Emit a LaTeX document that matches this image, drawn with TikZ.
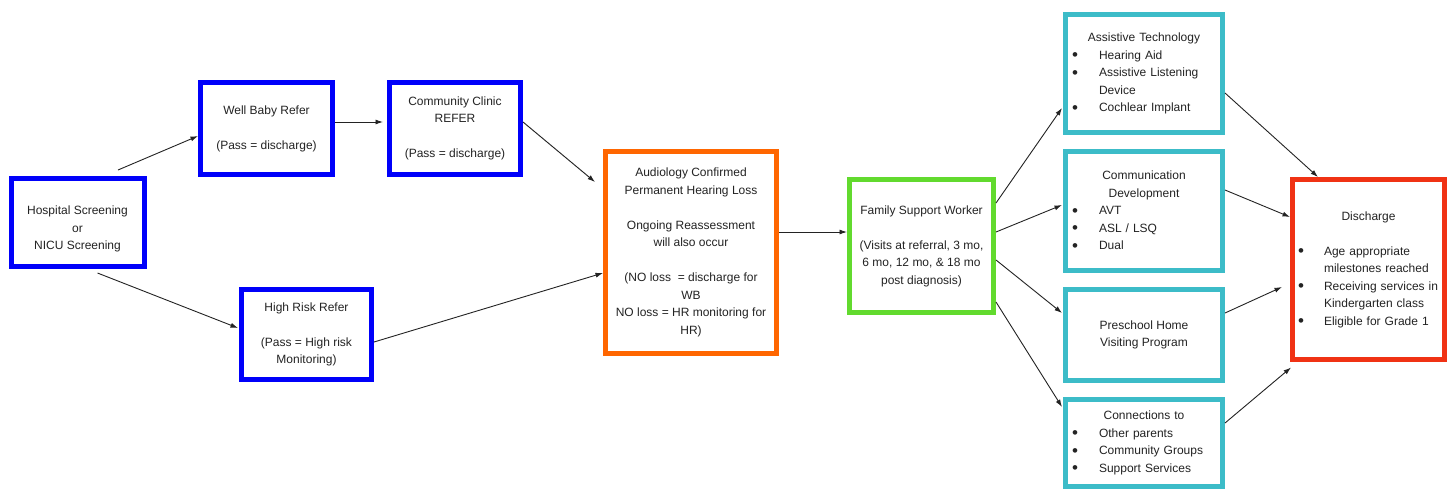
\documentclass[tikz,border=0pt]{standalone}
\usepackage{fontspec}
\setmainfont{Liberation Sans}
\usetikzlibrary{arrows.meta,calc}

\definecolor{frameblue}{RGB}{0,0,250}
\definecolor{frameorange}{RGB}{255,102,0}
\definecolor{framegreen}{RGB}{98,218,46}
\definecolor{frameteal}{RGB}{60,188,200}
\definecolor{framered}{RGB}{240,50,20}
\definecolor{inkgray}{RGB}{35,35,35}

% bullet with left gap #1 and bullet column width #2
\newcommand{\bul}[2]{\hspace*{#1}\makebox[#2][l]{\fontsize{17}{17}\selectfont\raisebox{-1.6pt}{\textbullet}}}

\begin{document}
\begin{tikzpicture}[x=1pt,y=-1pt,
  txt/.style={text=inkgray, font=\fontsize{12}{17.5}\selectfont, align=center, inner sep=0pt},
  boxframe/.style={draw=#1, line width=5pt, outer sep=2.5pt, inner sep=0pt,
    fill=white, txt},
  listbox/.style={boxframe=#1, align=left},
  flow/.style={draw=inkgray, line width=0.9pt, -{Latex[length=7.5pt,width=5pt]}},
]
\useasboundingbox[fill=white] (0,0) rectangle (1453,491);

% screening and referral stage
\node[boxframe=frameblue, minimum width=133pt, minimum height=88pt] (hosp) at (77.5,222.5) {};
\node[txt] (hospT) at (77.5,229) {Hospital Screening\\or\\NICU Screening};

\node[boxframe=frameblue, minimum width=132pt, minimum height=92pt] (wb) at (266.5,128.5)
  {Well Baby Refer\\[17.5pt](Pass = discharge)};

\node[boxframe=frameblue, minimum width=131pt, minimum height=92pt] (cc) at (455,128.5)
  {Community Clinic\\REFER\\[17.5pt](Pass = discharge)};

\node[boxframe=frameblue, minimum width=130pt, minimum height=90pt] (hr) at (306.5,334.5)
  {High Risk Refer\\[17.5pt](Pass = High risk\\Monitoring)};

% diagnosis and family support
\node[boxframe=frameorange, minimum width=171pt, minimum height=202pt] (aud) at (691,252.5)
  {Audiology Confirmed\\Permanent Hearing Loss\\[17.5pt]Ongoing Reassessment\\will also occur\\[17.5pt](NO loss~ = discharge for\\WB\\NO loss = HR monitoring for\\HR)};

\node[boxframe=framegreen, minimum width=144pt, minimum height=133pt] (fsw) at (921.5,246)
  {Family Support Worker\\[17.5pt](Visits at referral, 3 mo,\\6 mo, 12 mo, \& 18 mo\\post diagnosis)};

% services
\node[listbox=frameteal, text width=157pt, minimum height=118pt] (at) at (1144,73.5)
  {\makebox[157pt][c]{Assistive Technology}\\
   \bul{6.5pt}{27pt}Hearing Aid\\
   \bul{6.5pt}{27pt}Assistive Listening\\
   \hspace*{33.5pt}Device\\
   \bul{6.5pt}{27pt}Cochlear Implant};

\node[listbox=frameteal, text width=157pt, minimum height=119pt] (cd) at (1144,211)
  {\makebox[157pt][c]{Communication}\\
   \makebox[157pt][c]{Development}\\
   \bul{6.5pt}{27pt}AVT\\
   \bul{6.5pt}{27pt}ASL / LSQ\\
   \bul{6.5pt}{27pt}Dual};

\node[boxframe=frameteal, minimum width=157pt, minimum height=91pt] (ph) at (1144,335)
  {Preschool Home\\Visiting Program};

\node[listbox=frameteal, text width=157pt, minimum height=87pt] (ct) at (1144,443)
  {\makebox[157pt][c]{Connections to}\\
   \bul{6.5pt}{27pt}Other parents\\
   \bul{6.5pt}{27pt}Community Groups\\
   \bul{6.5pt}{27pt}Support Services};

% outcome
\node[listbox=framered, text width=152pt, minimum height=180pt] (dis) at (1368.5,269.5)
  {\makebox[152pt][c]{Discharge}\\[17.5pt]
   \bul{5.5pt}{26pt}Age appropriate\\
   \hspace*{31.5pt}milestones reached\\
   \bul{5.5pt}{26pt}Receiving services in\\
   \hspace*{31.5pt}Kindergarten class\\
   \bul{5.5pt}{26pt}Eligible for Grade 1};

% connectors
\draw[flow] ($(hosp.north)+(40.5,-6)$) -- ($(wb.west)+(0,7.5)$);
\draw[flow] ($(wb.east)+(0,-6.5)$) -- ($(cc.west)+(-4,-6.5)$);
\draw[flow] ($(cc.east)+(0,-6.5)$) -- ($(aud.north west)+(-8,33)$);
\draw[flow] ($(hosp.south)+(20,4)$) -- ($(hr.west)+(-1,-6.5)$);
\draw[flow] ($(hr.east)+(0,7.5)$) -- ($(aud.west)+(0,20.5)$);
\draw[flow] ($(aud.east)+(0,-20.5)$) -- ($(fsw.west)+(0,-14)$);
\draw[flow] ($(fsw.east)+(0,-43)$) -- ($(at.west)+(-1,34.5)$);
\draw[flow] ($(fsw.east)+(0,-14)$) -- ($(cd.west)+(-1,-6)$);
\draw[flow] ($(fsw.east)+(0,14)$) -- ($(ph.west)+(-1,-22)$);
\draw[flow] ($(fsw.east)+(0,56)$) -- ($(ct.north west)+(-1,10)$);
\draw[flow] ($(at.east)+(0,19.5)$) -- ($(dis.north west)+(28,0)$);
\draw[flow] ($(cd.east)+(0,-21)$) -- ($(dis.west)+(0,-52.5)$);
\draw[flow] ($(ph.east)+(0,-22)$) -- ($(dis.west)+(-8,17.5)$);
\draw[flow] ($(ct.east)+(0,-20)$) -- ($(dis.south west)+(1,5.5)$);
\end{tikzpicture}
\end{document}
